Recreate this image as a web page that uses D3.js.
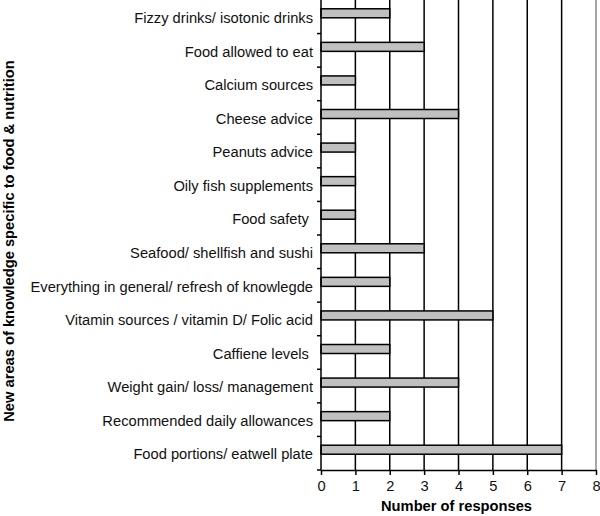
<!DOCTYPE html>
<meta charset="utf-8">
<script src="https://d3js.org/d3.v7.min.js"></script>
<style>
  body { margin: 0; background: #fff; }
  text { font-family: "Liberation Sans", Arial, sans-serif; }
</style>
<div id="chart"></div>
<script>
// categories, top to bottom
var categories = [
  "Fizzy drinks/ isotonic drinks",
  "Food allowed to eat",
  "Calcium sources",
  "Cheese advice",
  "Peanuts advice",
  "Oily fish supplements",
  "Food safety ",
  "Seafood/ shellfish and sushi",
  "Everything in general/ refresh of knowlegde",
  "Vitamin sources / vitamin D/ Folic acid",
  "Caffiene levels ",
  "Weight gain/ loss/ management",
  "Recommended daily allowances",
  "Food portions/ eatwell plate"
];
var responses = [2, 3, 1, 4, 1, 1, 1, 3, 2, 5, 2, 4, 2, 7];
var xTicks = [0, 1, 2, 3, 4, 5, 6, 7, 8];

var data = categories.map(function(c, i) { return { cat: c, n: responses[i] }; });

var fs = 14.7;
var margin = {top: 0, right: 4, bottom: 46, left: 321},
    width = 600 - margin.left - margin.right,
    height = 516 - margin.top - margin.bottom;

var svg = d3.select("#chart").append("svg")
    .attr("width", 600).attr("height", 516)
  .append("g")
    .attr("transform", "translate(" + margin.left + "," + margin.top + ")");

var x = d3.scaleLinear().domain([0, 8]).range([0, width]);
var y = d3.scaleBand().domain(categories).range([0, height]).padding(0);

// vertical gridlines
svg.append("g")
  .selectAll("line")
  .data(xTicks.slice(1))
  .enter().append("line")
    .attr("x1", function(d) { return x(d); })
    .attr("x2", function(d) { return x(d); })
    .attr("y1", 0).attr("y2", height)
    .attr("stroke", function(d) { return d === 8 ? "#888" : "#000"; })
    .attr("stroke-width", 1.5);

// bars (sit slightly above the band centre, like the original)
var barH = 9;
svg.append("g")
  .selectAll("rect")
  .data(data)
  .enter().append("rect")
    .attr("x", x(0))
    .attr("y", function(d) { return y(d.cat) + y.bandwidth() / 2 - barH / 2 - 3.5; })
    .attr("width", function(d) { return x(d.n) - x(0); })
    .attr("height", barH)
    .attr("fill", "#c0c0c0")
    .attr("stroke", "#000")
    .attr("stroke-width", 1.5);

// category axis: ticks at band boundaries
var yAxis = svg.append("g");
yAxis.append("line")
  .attr("x1", 0).attr("x2", 0).attr("y1", 0).attr("y2", height)
  .attr("stroke", "#000").attr("stroke-width", 1.5);
yAxis.selectAll("line.tick")
  .data(categories)
  .enter().append("line")
    .attr("class", "tick")
    .attr("x1", -4).attr("x2", 0)
    .attr("y1", function(d) { return y(d) + y.bandwidth(); })
    .attr("y2", function(d) { return y(d) + y.bandwidth(); })
    .attr("stroke", "#000").attr("stroke-width", 1.5);
yAxis.selectAll("text")
  .data(categories)
  .enter().append("text")
    .attr("x", -8)
    .attr("y", function(d) { return y(d) + y.bandwidth() / 2 + 1; })
    .attr("dy", "0.35em")
    .attr("text-anchor", "end")
    .style("white-space", "pre")
    .attr("font-size", fs)
    .attr("fill", "#111")
    .text(function(d) { return d; });

// x axis
var xAxis = svg.append("g")
  .attr("transform", "translate(0," + height + ")")
  .call(d3.axisBottom(x).tickValues(xTicks).tickSize(5).tickSizeOuter(0).tickPadding(6));
xAxis.select(".domain").attr("stroke", "#000").attr("stroke-width", 1.5);
xAxis.selectAll(".tick line").attr("stroke", "#000").attr("stroke-width", 1.5);
xAxis.selectAll(".tick text")
  .attr("font-size", fs)
  .attr("font-family", "Liberation Sans, Arial, sans-serif")
  .attr("fill", "#111");

// axis titles
svg.append("text")
  .attr("x", width / 2 - 2)
  .attr("y", height + 41)
  .attr("text-anchor", "middle")
  .attr("font-size", fs)
  .attr("font-weight", "bold")
  .text("Number of responses");

svg.append("text")
  .attr("transform", "translate(" + (-margin.left + 14) + "," + 241 + ") rotate(-90)")
  .attr("text-anchor", "middle")
  .attr("font-size", fs)
  .attr("font-weight", "bold")
  .text("New areas of knowledge specific to food & nutrition");
</script>
